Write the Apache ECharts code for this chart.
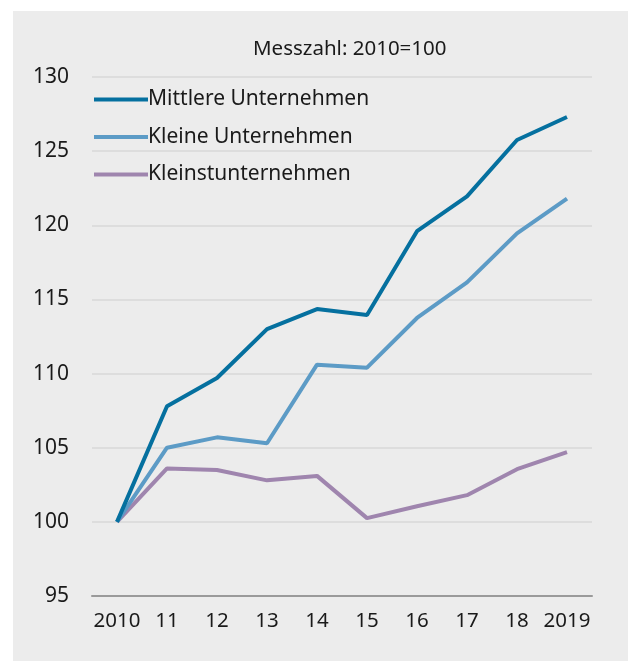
<!DOCTYPE html>
<html lang="de">
<head>
    <meta charset="UTF-8">
    <title>Messzahl 2010=100</title>
    <script type="text/javascript" src="https://cdn.jsdelivr.net/npm/echarts@6/dist/echarts.min.js"></script>
    <style>
        body { margin: 0; background: #fff; }
        #container { position: absolute; left: 13px; top: 11px; width: 615px; height: 650px; }
    </style>
</head>
<body>
<div id="container"></div>
<script type="text/javascript">
    // Jahre (x-Achse)
    var jahre = ['2010', '11', '12', '13', '14', '15', '16', '17', '18', '2019'];
    // Messzahl 2010 = 100
    var mittlere = [100, 107.8, 109.7, 113.0, 114.35, 113.95, 119.6, 121.95, 125.75, 127.3];
    var kleine = [100, 105.0, 105.7, 105.3, 110.6, 110.4, 113.75, 116.15, 119.45, 121.8];
    var kleinst = [100, 103.6, 103.5, 102.8, 103.1, 100.25, 101.05, 101.8, 103.55, 104.7];
    var namen = ['Mittlere Unternehmen', 'Kleine Unternehmen', 'Kleinstunternehmen'];
    var farben = ['#05709f', '#5c9bc6', '#9f85ae'];

    var schrift = '"Noto Sans", sans-serif';
    var dom = document.getElementById('container');
    var myChart = echarts.init(dom);

    var option = {
        backgroundColor: '#ececec',
        animation: false,
        color: farben,
        title: {
            text: 'Messzahl: 2010=100',
            left: 235,
            top: 23,
            textStyle: { fontFamily: schrift, fontSize: 20.5, fontWeight: 'normal', color: '#1a1a1a' }
        },
        legend: {
            orient: 'vertical',
            left: 76,
            top: 73,
            icon: 'rect',
            itemWidth: 54,
            itemHeight: 4,
            itemGap: 16.5,
            data: namen,
            textStyle: { fontFamily: schrift, fontSize: 21, color: '#1a1a1a', padding: [0, 0, 0, -5] }
        },
        grid: { left: 79, right: 36, top: 66, bottom: 65 },
        xAxis: {
            type: 'category',
            boundaryGap: true,
            data: jahre,
            axisTick: { show: false },
            axisLine: { lineStyle: { color: '#9a9a9a', width: 2 } },
            axisLabel: { fontFamily: schrift, fontSize: 20.5, color: '#1a1a1a', margin: 15, interval: 0 }
        },
        yAxis: {
            type: 'value',
            min: 95,
            max: 130,
            interval: 5,
            axisLine: { show: false },
            axisTick: { show: false },
            splitLine: { lineStyle: { color: '#d8d8d8', width: 1.5 } },
            axisLabel: { fontFamily: schrift, fontSize: 21, color: '#1a1a1a', margin: 23 }
        },
        series: [
            { name: namen[0], type: 'line', data: mittlere, symbol: 'none', lineStyle: { width: 4 }, z: 4 },
            { name: namen[1], type: 'line', data: kleine, symbol: 'none', lineStyle: { width: 4 }, z: 3 },
            { name: namen[2], type: 'line', data: kleinst, symbol: 'none', lineStyle: { width: 4 }, z: 2 }
        ]
    };

    if (option && typeof option === "object") {
        myChart.setOption(option, true);
    }
</script>
</body>
</html>
